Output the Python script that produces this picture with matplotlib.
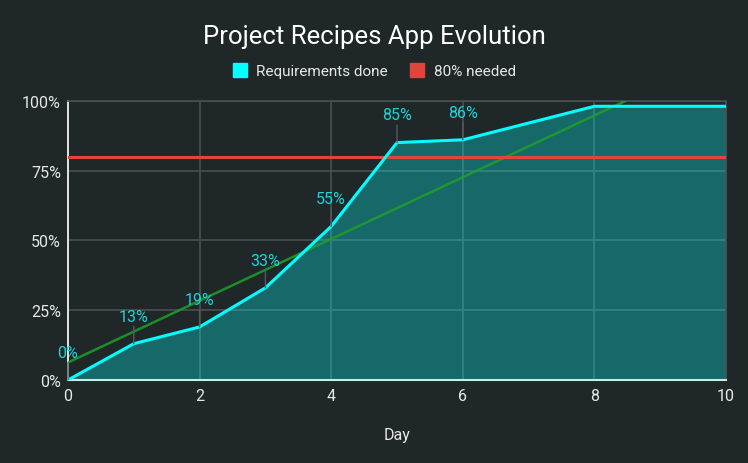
import matplotlib.pyplot as plt
import numpy as np
from matplotlib.lines import Line2D

days = [0, 1, 2, 3, 4, 5, 6, 7, 8, 9, 10]
done = [0, 13, 19, 33, 55, 85, 86, 92, 98, 98, 98]
labelled = 7          # only the first points carry an annotation
needed = 80

bg = '#202729'
cyan = '#00ffff'
label_col = '#1fd3d8'
red = '#e0443a'
green = '#1ea02a'
grid_col = '#4a4f52'
text_col = '#e8e8e8'

plt.rcParams['font.family'] = ['Roboto', 'DejaVu Sans']

fig = plt.figure(figsize=(7.48, 4.64), dpi=100, facecolor=bg)
ax = fig.add_axes([68 / 748, 1 - 381 / 464, 658 / 748, 279.3 / 464])
ax.set_facecolor(bg)

ax.set_xlim(0, 10)
ax.set_ylim(0, 100)
ax.set_xticks(range(0, 11, 2))
ax.set_yticks([0, 25, 50, 75, 100])
ax.set_yticklabels(['%d%%' % v for v in [0, 25, 50, 75, 100]])
ax.grid(color=grid_col, linewidth=1.2, zorder=0)
ax.set_axisbelow(True)
for side in ['top', 'right']:
    ax.spines[side].set_color(grid_col)
    ax.spines[side].set_linewidth(1.2)
ax.spines['left'].set_color('#f0f0f0')
ax.spines['left'].set_linewidth(1.3)
ax.spines['bottom'].set_color('#cfe8e8')
ax.spines['bottom'].set_linewidth(1.5)
ax.tick_params(colors=text_col, labelsize=11.5, length=0, pad=5)
ax.tick_params(axis='x', pad=6)

# area + line
ax.fill_between(days, done, 0, color=cyan, alpha=0.3, linewidth=0, zorder=2)
ax.plot(days, done, color=cyan, linewidth=2.2, zorder=5, solid_joinstyle='miter')

# 80% threshold
ax.axhline(needed, color=red, linewidth=2.2, zorder=4)

# linear trend of the completion series
slope, icpt = np.polyfit(days, done, 1)
tx = np.array([0, 10])
ax.plot(tx, icpt + slope * tx, color=green, linewidth=1.8, alpha=0.85, zorder=3)

# annotations with stems
for d, v in zip(days[:labelled], done[:labelled]):
    ax.annotate('%d%%' % v, xy=(d, v), xytext=(0, 14.5), textcoords='offset points',
                ha='center', va='bottom', color=label_col, fontsize=11.5,
                arrowprops=dict(arrowstyle='-', color='#55595c', linewidth=1,
                                shrinkA=0, shrinkB=0), zorder=6)

ax.set_xlabel('Day', color=text_col, fontsize=11.5, labelpad=17)

fig.text(0.5, 0.92, 'Project Recipes App Evolution', ha='center', va='center',
         color='white', fontsize=18.5)

handles = [Line2D([], [], marker='s', linestyle='', markersize=10.5, color=cyan),
           Line2D([], [], marker='s', linestyle='', markersize=10.5, color=red)]
fig.legend(handles, ['Requirements done', '80% needed'], loc='center',
           bbox_to_anchor=(0.5, 0.845), ncol=2, frameon=False, fontsize=11,
           labelcolor=text_col, handletextpad=0.6, columnspacing=1.4,
           handlelength=1.0)

fig.savefig('out.png', dpi=100, facecolor=bg)
